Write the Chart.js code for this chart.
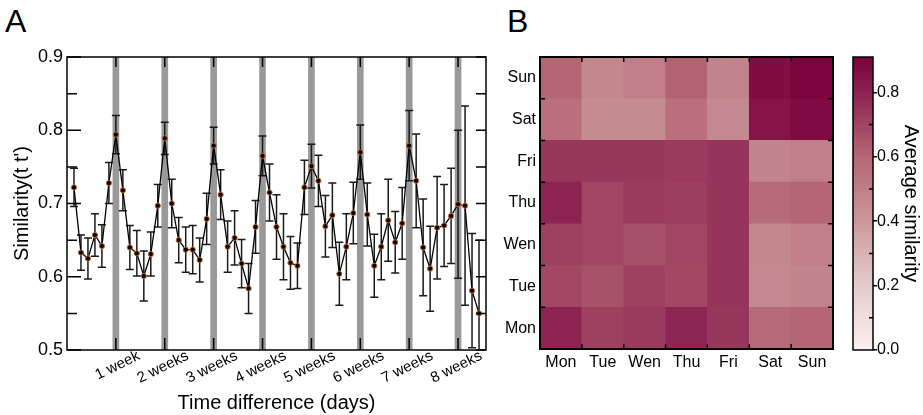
<!DOCTYPE html>
<html>
<head>
<meta charset="utf-8">
<title>Similarity across days</title>
<script src="https://cdn.jsdelivr.net/npm/chart.js@4.4.0/dist/chart.umd.min.js"></script>
<style>
  body { margin: 0; background: #fff; width: 923px; height: 415px; position: relative; overflow: hidden;
         font-family: "Liberation Sans", Arial, sans-serif; }
  canvas { position: absolute; top: 0; }
  #lagChart { left: 0; }
  #weekChart { left: 500px; }
  #barChart { left: 845px; }
  .panel { position: absolute; font-size: 32px; line-height: 32px; color: #000; }
</style>
</head>
<body>
<div class="panel" style="left:5px;top:5px">A</div>
<div class="panel" style="left:507px;top:5px">B</div>
<canvas id="lagChart" width="510" height="415"></canvas>
<canvas id="weekChart" width="345" height="415"></canvas>
<canvas id="barChart" width="78" height="415"></canvas>
<script>
// mean similarity for a lag of 1..59 days, with its error
const similarity = [
  0.722, 0.633, 0.625, 0.657, 0.642, 0.728, 0.794, 0.718, 0.640, 0.632,
  0.601, 0.631, 0.697, 0.789, 0.700, 0.650, 0.637, 0.637, 0.623, 0.679,
  0.779, 0.712, 0.641, 0.653, 0.618, 0.584, 0.668, 0.765, 0.715, 0.668,
  0.641, 0.619, 0.615, 0.722, 0.751, 0.731, 0.669, 0.684, 0.604, 0.641,
  0.687, 0.770, 0.685, 0.615, 0.641, 0.677, 0.647, 0.673, 0.779, 0.731,
  0.640, 0.611, 0.667, 0.670, 0.683, 0.699, 0.697, 0.581, 0.550
];
const similarityErr = [
  0.026, 0.024, 0.028, 0.029, 0.029, 0.028, 0.026, 0.028, 0.030, 0.031,
  0.034, 0.030, 0.029, 0.022, 0.033, 0.031, 0.031, 0.033, 0.030, 0.035,
  0.025, 0.034, 0.035, 0.037, 0.033, 0.034, 0.036, 0.027, 0.039, 0.044,
  0.045, 0.036, 0.031, 0.037, 0.030, 0.035, 0.042, 0.044, 0.043, 0.045,
  0.042, 0.037, 0.043, 0.043, 0.045, 0.056, 0.042, 0.049, 0.048, 0.064,
  0.066, 0.058, 0.070, 0.056, 0.065, 0.101, 0.136, 0.078, 0.100
];
const lagDays = similarity.map((_, i) => i + 1);
const weekDays = [7, 14, 21, 28, 35, 42, 49, 56];
const weekLabels = ['1 week', '2 weeks', '3 weeks', '4 weeks', '5 weeks', '6 weeks', '7 weeks', '8 weeks'];
const simTicks = [0.5, 0.6, 0.7, 0.8, 0.9];
const simMinor = [0.55, 0.65, 0.75, 0.85];

// average similarity between days of the week (row day vs column day)
const weekdays = ['Mon', 'Tue', 'Wen', 'Thu', 'Fri', 'Sat', 'Sun'];
const rowMon = [0.80, 0.71, 0.73, 0.79, 0.74, 0.58, 0.60];
const rowTue = [0.69, 0.66, 0.71, 0.69, 0.75, 0.46, 0.48];
const rowWen = [0.71, 0.70, 0.67, 0.70, 0.75, 0.47, 0.50];
const rowThu = [0.80, 0.70, 0.73, 0.72, 0.75, 0.58, 0.60];
const rowFri = [0.74, 0.74, 0.74, 0.73, 0.75, 0.48, 0.50];
const rowSat = [0.56, 0.45, 0.45, 0.56, 0.46, 0.85, 0.88];
const rowSun = [0.60, 0.47, 0.50, 0.61, 0.48, 0.87, 0.90];
const heatRows = [rowMon, rowTue, rowWen, rowThu, rowFri, rowSat, rowSun];
const cbMax = 0.91;
const cbTicks = [0.0, 0.2, 0.4, 0.6, 0.8];
const cbMinor = [0.1, 0.3, 0.5, 0.7];

Chart.defaults.font.family = '"Liberation Sans", Arial, sans-serif';
Chart.defaults.color = '#000';

const cmapStops = [
  [0.0, [252, 240, 240]],
  [0.2, [228, 204, 204]],
  [0.4, [203, 152, 156]],
  [0.6, [180, 102, 116]],
  [0.8, [140, 35, 82]],
  [0.91, [122, 0, 58]]
];

function heatColor(v) {
  for (let i = 1; i < cmapStops.length; i++) {
    const [v1, c1] = cmapStops[i];
    const [v0, c0] = cmapStops[i - 1];
    if (v <= v1 || i === cmapStops.length - 1) {
      const t = Math.max(0, Math.min(1, (v - v0) / (v1 - v0)));
      const c = c0.map((a, k) => Math.round(a + (c1[k] - a) * t));
      return `rgb(${c[0]},${c[1]},${c[2]})`;
    }
  }
}

function line(ctx, x1, y1, x2, y2) {
  ctx.moveTo(x1, y1);
  ctx.lineTo(x2, y2);
}

// error bars under the line, frame and inward ticks on top
const lagDecor = {
  id: 'lagDecor',
  beforeDatasetDraw(chart, args) {
    if (args.meta.type !== 'line') return;
    const { ctx, chartArea: a, scales: { x, y } } = chart;
    ctx.save();
    ctx.beginPath();
    ctx.rect(a.left, a.top, a.width, a.height);
    ctx.clip();
    ctx.strokeStyle = '#1a1a1a';
    ctx.lineWidth = 1.5;
    ctx.beginPath();
    similarity.forEach((v, i) => {
      const px = x.getPixelForValue(lagDays[i]);
      const top = y.getPixelForValue(v + similarityErr[i]);
      const bot = y.getPixelForValue(v - similarityErr[i]);
      line(ctx, px, top, px, bot);
      line(ctx, px - 4, top, px + 4, top);
      line(ctx, px - 4, bot, px + 4, bot);
    });
    ctx.stroke();
    ctx.restore();
  },
  afterDatasetsDraw(chart) {
    const { ctx, chartArea: a, scales: { x, y } } = chart;
    ctx.save();
    ctx.strokeStyle = '#000';
    ctx.lineWidth = 1.5;
    ctx.beginPath();
    weekDays.forEach(d => {
      const px = x.getPixelForValue(d);
      line(ctx, px, a.top, px, a.top + 10);
      line(ctx, px, a.bottom, px, a.bottom - 12);
    });
    simTicks.forEach(v => {
      const py = y.getPixelForValue(v);
      line(ctx, a.left, py, a.left + 14, py);
      line(ctx, a.right, py, a.right - 10, py);
    });
    simMinor.forEach(v => {
      const py = y.getPixelForValue(v);
      line(ctx, a.left, py, a.left + 10, py);
      line(ctx, a.right, py, a.right - 10, py);
    });
    ctx.stroke();
    ctx.strokeRect(a.left, a.top, a.width, a.height);
    ctx.restore();
  }
};

new Chart(document.getElementById('lagChart'), {
  type: 'line',
  data: {
    datasets: [
      {
        type: 'line',
        data: lagDays.map((d, i) => ({ x: d, y: similarity[i] })),
        borderColor: '#000',
        borderWidth: 1.3,
        pointRadius: 2.6,
        pointBorderWidth: 1,
        pointBackgroundColor: '#000',
        pointBorderColor: '#c8662e',
        order: 1
      },
      {
        type: 'bar',
        data: weekDays.map(d => ({ x: d, y: [0.5, 0.9] })),
        backgroundColor: '#999999',
        barThickness: 6,
        grouped: false,
        order: 2
      }
    ]
  },
  options: {
    responsive: false,
    animation: false,
    layout: { padding: { top: 57, right: 24, left: 0, bottom: 0 } },
    plugins: { legend: { display: false }, tooltip: { enabled: false } },
    scales: {
      x: {
        type: 'linear', min: 0, max: 60, offset: false,
        afterBuildTicks: s => { s.ticks = weekDays.map(v => ({ value: v })); },
        afterFit: s => { s.height = 65; },
        grid: { display: false, drawTicks: false },
        border: { display: false },
        ticks: {
          autoSkip: false, minRotation: 26, maxRotation: 26, labelOffset: 23, padding: -3,
          font: { size: 15 },
          callback: v => weekLabels[weekDays.indexOf(v)]
        },
        title: { display: true, text: 'Time difference (days)', font: { size: 20 }, padding: { top: 0, bottom: 0 } }
      },
      y: {
        min: 0.5, max: 0.9,
        afterBuildTicks: s => { s.ticks = simTicks.map(v => ({ value: v })); },
        afterFit: s => { s.width = 67; },
        grid: { display: false, drawTicks: false },
        border: { display: false },
        ticks: { padding: 4, font: { size: 18 }, callback: v => v.toFixed(1) },
        title: { display: true, text: "Similarity(t t')", font: { size: 20 }, padding: { top: 10, bottom: 0 } }
      }
    }
  },
  plugins: [lagDecor]
});

// frame plus short ticks at the cell boundaries
const heatDecor = {
  id: 'heatDecor',
  afterDatasetsDraw(chart) {
    const { ctx, chartArea: a, scales: { x, y } } = chart;
    ctx.save();
    ctx.strokeStyle = '#000';
    ctx.lineWidth = 1.5;
    ctx.beginPath();
    for (let i = 0; i < weekdays.length - 1; i++) {
      const px = (x.getPixelForValue(i) + x.getPixelForValue(i + 1)) / 2;
      line(ctx, px, a.top, px, a.top + 5);
      line(ctx, px, a.bottom, px, a.bottom - 5);
      const py = y.getPixelForValue(i + 1);
      line(ctx, a.left, py, a.left + 5, py);
      line(ctx, a.right, py, a.right - 5, py);
    }
    ctx.stroke();
    ctx.lineWidth = 2;
    ctx.strokeRect(a.left, a.top, a.width, a.height);
    ctx.restore();
  }
};

new Chart(document.getElementById('weekChart'), {
  type: 'bar',
  data: {
    labels: weekdays,
    datasets: heatRows.map((row, r) => ({
      label: weekdays[r],
      data: row.map(() => 1),
      backgroundColor: row.map(heatColor),
      barPercentage: 1,
      categoryPercentage: 1,
      borderWidth: 0
    }))
  },
  options: {
    responsive: false,
    animation: false,
    layout: { padding: { top: 57, right: 12, left: 0, bottom: 0 } },
    plugins: { legend: { display: false }, tooltip: { enabled: false } },
    scales: {
      x: {
        stacked: true,
        afterFit: s => { s.height = 66; },
        grid: { display: false, drawTicks: false },
        border: { display: false },
        ticks: { font: { size: 16 }, padding: 4 }
      },
      y: {
        stacked: true, min: 0, max: 7,
        afterBuildTicks: s => { s.ticks = weekdays.map((_, i) => ({ value: i + 0.5 })); },
        afterFit: s => { s.width = 40; },
        grid: { display: false, drawTicks: false },
        border: { display: false },
        ticks: { font: { size: 16 }, padding: 4, callback: v => weekdays[Math.floor(v)] }
      }
    }
  },
  plugins: [heatDecor]
});

// colour bar: one bar filled with the colour map, its own axis on the right
const barDecor = {
  id: 'barDecor',
  afterDatasetsDraw(chart) {
    const { ctx, chartArea: a, scales: { y } } = chart;
    ctx.save();
    ctx.strokeStyle = '#000';
    ctx.lineWidth = 1.5;
    ctx.beginPath();
    cbMinor.forEach(v => {
      const py = y.getPixelForValue(v);
      line(ctx, a.right, py, a.right - 4, py);
    });
    ctx.stroke();
    ctx.strokeRect(a.left, a.top, a.width, a.height);
    ctx.restore();
  }
};

new Chart(document.getElementById('barChart'), {
  type: 'bar',
  data: {
    labels: [''],
    datasets: [{
      data: [cbMax],
      backgroundColor: c => {
        const chart = c.chart;
        if (!chart.chartArea) return null;
        const y = chart.scales.y;
        const g = chart.ctx.createLinearGradient(0, y.getPixelForValue(0), 0, y.getPixelForValue(cbMax));
        cmapStops.forEach(([v, rgb]) => g.addColorStop(v / cbMax, `rgb(${rgb.join(',')})`));
        return g;
      },
      barPercentage: 1,
      categoryPercentage: 1,
      borderWidth: 0
    }]
  },
  options: {
    responsive: false,
    animation: false,
    layout: { padding: { top: 57, right: 0, left: 8, bottom: 65 } },
    plugins: { legend: { display: false }, tooltip: { enabled: false } },
    scales: {
      x: { display: false },
      y: {
        position: 'right', min: 0, max: cbMax,
        afterBuildTicks: s => { s.ticks = cbTicks.map(v => ({ value: v })); },
        afterFit: s => { s.width = 50; },
        grid: { drawOnChartArea: false, tickLength: 4, color: '#000', lineWidth: 1.5 },
        border: { display: false },
        ticks: { padding: 0, font: { size: 16 }, callback: v => v.toFixed(1) },
        title: { display: true, text: 'Average similarity', font: { size: 20 }, padding: { top: 0, bottom: 0 } }
      }
    }
  },
  plugins: [barDecor]
});
</script>
</body>
</html>
